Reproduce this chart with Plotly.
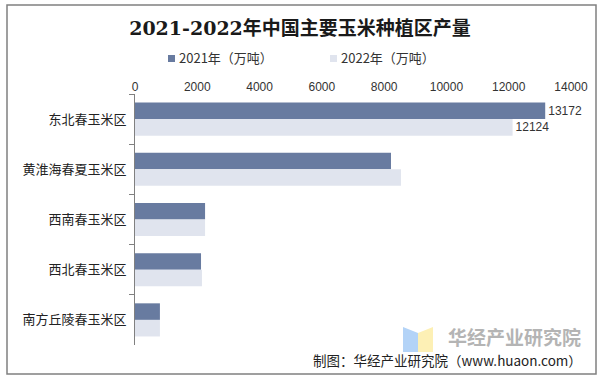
import plotly.graph_objects as go

categories = ["东北春玉米区", "黄淮海春夏玉米区", "西南春玉米区", "西北春玉米区", "南方丘陵春玉米区"]
values_2021 = [13172, 8220, 2250, 2120, 800]
values_2022 = [12124, 8540, 2250, 2150, 800]
labels_2021 = ["13172", "", "", "", ""]
labels_2022 = ["12124", "", "", "", ""]
series_names = ["2021年（万吨）", "2022年（万吨）"]
series_colors = ["#687ba0", "#e0e4ee"]
x_ticks = [0, 2000, 4000, 6000, 8000, 10000, 12000, 14000]

W, H = 605, 382
L, R, T, B = 135, 34, 94, 37
pw, ph = W - L - R, H - T - B

def px(x):
    return (x - L) / pw

def py(y):
    return (H - B - y) / ph

font_main = "Microsoft YaHei, Noto Sans CJK SC, sans-serif"

fig = go.Figure()
for vals, labs, name, col in [(values_2021, labels_2021, series_names[0], series_colors[0]),
                              (values_2022, labels_2022, series_names[1], series_colors[1])]:
    fig.add_trace(go.Bar(
        y=categories, x=vals, name=name, orientation="h",
        marker=dict(color=col, line=dict(width=0)), text=labs, textposition="outside",
        textfont=dict(size=12, color="#333333", family="Arial, Liberation Sans, sans-serif"),
        cliponaxis=False, showlegend=False, hoverinfo="skip",
    ))

shapes = [
    dict(type="rect", xref="paper", yref="paper", x0=px(7), x1=px(596), y0=py(374), y1=py(5),
         line=dict(color="#808080", width=1.5), fillcolor="rgba(0,0,0,0)", layer="below"),
    # watermark logo
    dict(type="path", xref="paper", yref="paper",
         path=f"M {px(403)} {py(327)} L {px(418)} {py(333)} L {px(418)} {py(352)} L {px(403)} {py(352)} Z",
         fillcolor="#b3d3f7", line=dict(width=0), layer="below"),
    dict(type="path", xref="paper", yref="paper",
         path=f"M {px(418)} {py(333)} L {px(433)} {py(327)} L {px(433)} {py(352)} L {px(418)} {py(352)} Z",
         fillcolor="#fdf0b5", line=dict(width=0), layer="below"),
]

annotations = [
    dict(text="<b>华经产业研究院</b>", x=px(514), y=py(336), xref="paper", yref="paper",
         showarrow=False, font=dict(size=19, color="#b4b4b4", family=font_main), xanchor="center", yanchor="middle"),
    dict(text="制图：华经产业研究院（www.huaon.com）", x=px(584), y=py(359.5), xref="paper", yref="paper",
         showarrow=False, font=dict(size=13.5, color="#222222", family=font_main), xanchor="right", yanchor="middle"),
]

# legend drawn manually
legend_pos = [(168, series_names[0], series_colors[0]), (330, series_names[1], series_colors[1])]
for x0, name, col in legend_pos:
    shapes.append(dict(type="rect", xref="paper", yref="paper", x0=px(x0), x1=px(x0 + 7),
                       y0=py(62), y1=py(55), fillcolor=col, line=dict(width=0)))
    annotations.append(dict(text=name, x=px(x0 + 9), y=py(58), xref="paper", yref="paper",
                            showarrow=False, xanchor="left", yanchor="middle",
                            font=dict(size=13, color="#333333", family=font_main)))

fig.update_layout(
    width=W, height=H,
    margin=dict(l=L, r=R, t=T, b=B, autoexpand=False),
    paper_bgcolor="white", plot_bgcolor="white",
    title=dict(text="<b>2021-2022年中国主要玉米种植区产量</b>", x=px(300), xref="paper", xanchor="center",
               y=1 - 28 / H, yanchor="middle",
               font=dict(size=19, color="#1a1a1a", family="DejaVu Serif, Noto Sans CJK SC, serif")),
    barmode="group", bargap=0.34, bargroupgap=0,
    xaxis=dict(side="top", range=[0, 14000], tickvals=x_ticks, ticktext=[str(v) for v in x_ticks],
               showgrid=False, zeroline=False, showline=False, ticks="", automargin=False,
               tickfont=dict(size=12, color="#333333", family="Arial, Liberation Sans, sans-serif")),
    yaxis=dict(autorange="reversed", showgrid=False, showline=True, linecolor="#808080", linewidth=1,
               ticks="outside", ticklen=5, tickcolor="#808080", tickson="boundaries", automargin=False,
               ticklabelstandoff=5,
               tickfont=dict(size=13, color="#222222", family=font_main)),
    shapes=shapes, annotations=annotations,
)

fig.write_html("out.html", config={"displayModeBar": False},
               post_script="document.body.style.margin='0';")
